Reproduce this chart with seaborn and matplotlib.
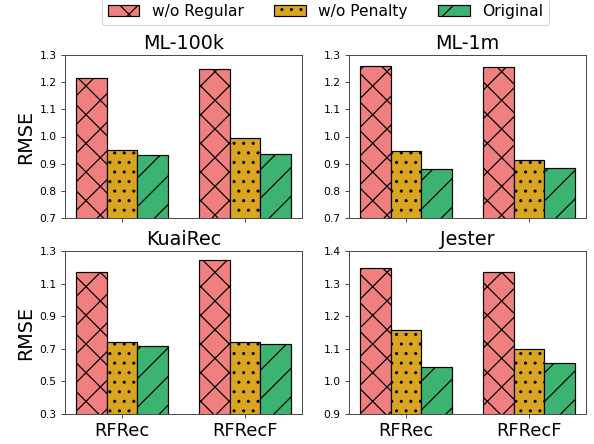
import numpy as np
import pandas as pd
import matplotlib
matplotlib.use("Agg")
import matplotlib.pyplot as plt
from matplotlib.patches import Patch
from matplotlib.ticker import FormatStrFormatter
import seaborn as sns

models = ["RFRec", "RFRecF"]
variants = ["w/o Regular", "w/o Penalty", "Original"]
datasets = ["ML-100k", "ML-1m", "KuaiRec", "Jester"]

ml100k_regular = [1.216, 1.250]
ml100k_penalty = [0.952, 0.995]
ml100k_original = [0.931, 0.936]

ml1m_regular = [1.259, 1.256]
ml1m_penalty = [0.948, 0.914]
ml1m_original = [0.882, 0.883]

kuairec_regular = [1.171, 1.243]
kuairec_penalty = [0.742, 0.740]
kuairec_original = [0.715, 0.727]

jester_regular = [1.349, 1.335]
jester_penalty = [1.159, 1.100]
jester_original = [1.045, 1.056]

values = {
    "ML-100k": [ml100k_regular, ml100k_penalty, ml100k_original],
    "ML-1m": [ml1m_regular, ml1m_penalty, ml1m_original],
    "KuaiRec": [kuairec_regular, kuairec_penalty, kuairec_original],
    "Jester": [jester_regular, jester_penalty, jester_original],
}
yticks = {
    "ML-100k": [0.7, 0.8, 0.9, 1.0, 1.1, 1.2, 1.3],
    "ML-1m": [0.7, 0.8, 0.9, 1.0, 1.1, 1.2, 1.3],
    "KuaiRec": [0.3, 0.5, 0.7, 0.9, 1.1, 1.3],
    "Jester": [0.9, 1.0, 1.1, 1.2, 1.3, 1.4],
}

colors = ["#F08080", "#DAA520", "#3CB371"]
hatches = ["xx", "...", "//"]

DPI = 172
S = 0.5  # size scale (points -> pixels at high dpi)
plt.rcParams.update({
    "hatch.linewidth": 1.0 * S,
    "axes.linewidth": 0.8 * S,
    "patch.linewidth": 1.0 * S,
    "xtick.major.size": 3.5 * S, "ytick.major.size": 3.5 * S,
    "xtick.major.width": 0.8 * S, "ytick.major.width": 0.8 * S,
    "xtick.major.pad": 3.5 * S, "ytick.major.pad": 3.5 * S,
    "axes.labelpad": 4 * S,
})
fig = plt.figure(figsize=(594 / DPI, 444 / DPI), dpi=DPI)
spine_col = "#444444"

W, H = 594.0, 444.0
positions = {
    "ML-100k": (65, 55),
    "ML-1m": (349, 55),
    "KuaiRec": (65, 251),
    "Jester": (349, 251),
}
aw, ah = 237, 163

for i, name in enumerate(datasets):
    x0, ytop = positions[name]
    ax = fig.add_axes([x0 / W, 1 - (ytop + ah) / H, aw / W, ah / H])
    rows = []
    for v, vals in zip(variants, values[name]):
        for m, val in zip(models, vals):
            rows.append({"model": m, "variant": v, "rmse": val})
    df = pd.DataFrame(rows)
    sns.barplot(data=df, x="model", y="rmse", hue="variant", order=models,
                hue_order=variants, palette=colors, saturation=1, width=0.75,
                edgecolor="black", linewidth=1.0 * S, legend=False, ax=ax)
    for cont, h in zip(ax.containers, hatches):
        for p in cont:
            p.set_hatch(h)
    ax.set_xlim(-0.4645, 1.4645)
    yt = yticks[name]
    ax.set_ylim(yt[0], yt[-1])
    ax.set_yticks(yt)
    ax.yaxis.set_major_formatter(FormatStrFormatter("%.1f"))
    ax.tick_params(axis="y", labelsize=9 * S, colors=spine_col, labelcolor="black")
    ax.tick_params(axis="x", labelsize=15 * S, colors=spine_col, labelcolor="black")
    for s in ax.spines.values():
        s.set_color(spine_col)
    ax.set_title(name, fontsize=16 * S, pad=5 * S)
    ax.set_xlabel("")
    if i % 2 == 0:
        ax.set_ylabel("RMSE", fontsize=16 * S)
    else:
        ax.set_ylabel("")
    if i < 2:
        ax.set_xticklabels([])

handles = [Patch(facecolor=c, edgecolor="black", hatch=h, label=v, linewidth=1.0 * S)
           for c, h, v in zip(colors, hatches, variants)]
leg = fig.legend(handles=handles, loc="lower center", bbox_to_anchor=(0.548, 1 - 25 / H),
                 ncol=3, fontsize=13 * S, borderaxespad=0, frameon=True)
leg.get_frame().set_linewidth(1.0 * S)

fig.savefig("out.png", dpi=DPI)
